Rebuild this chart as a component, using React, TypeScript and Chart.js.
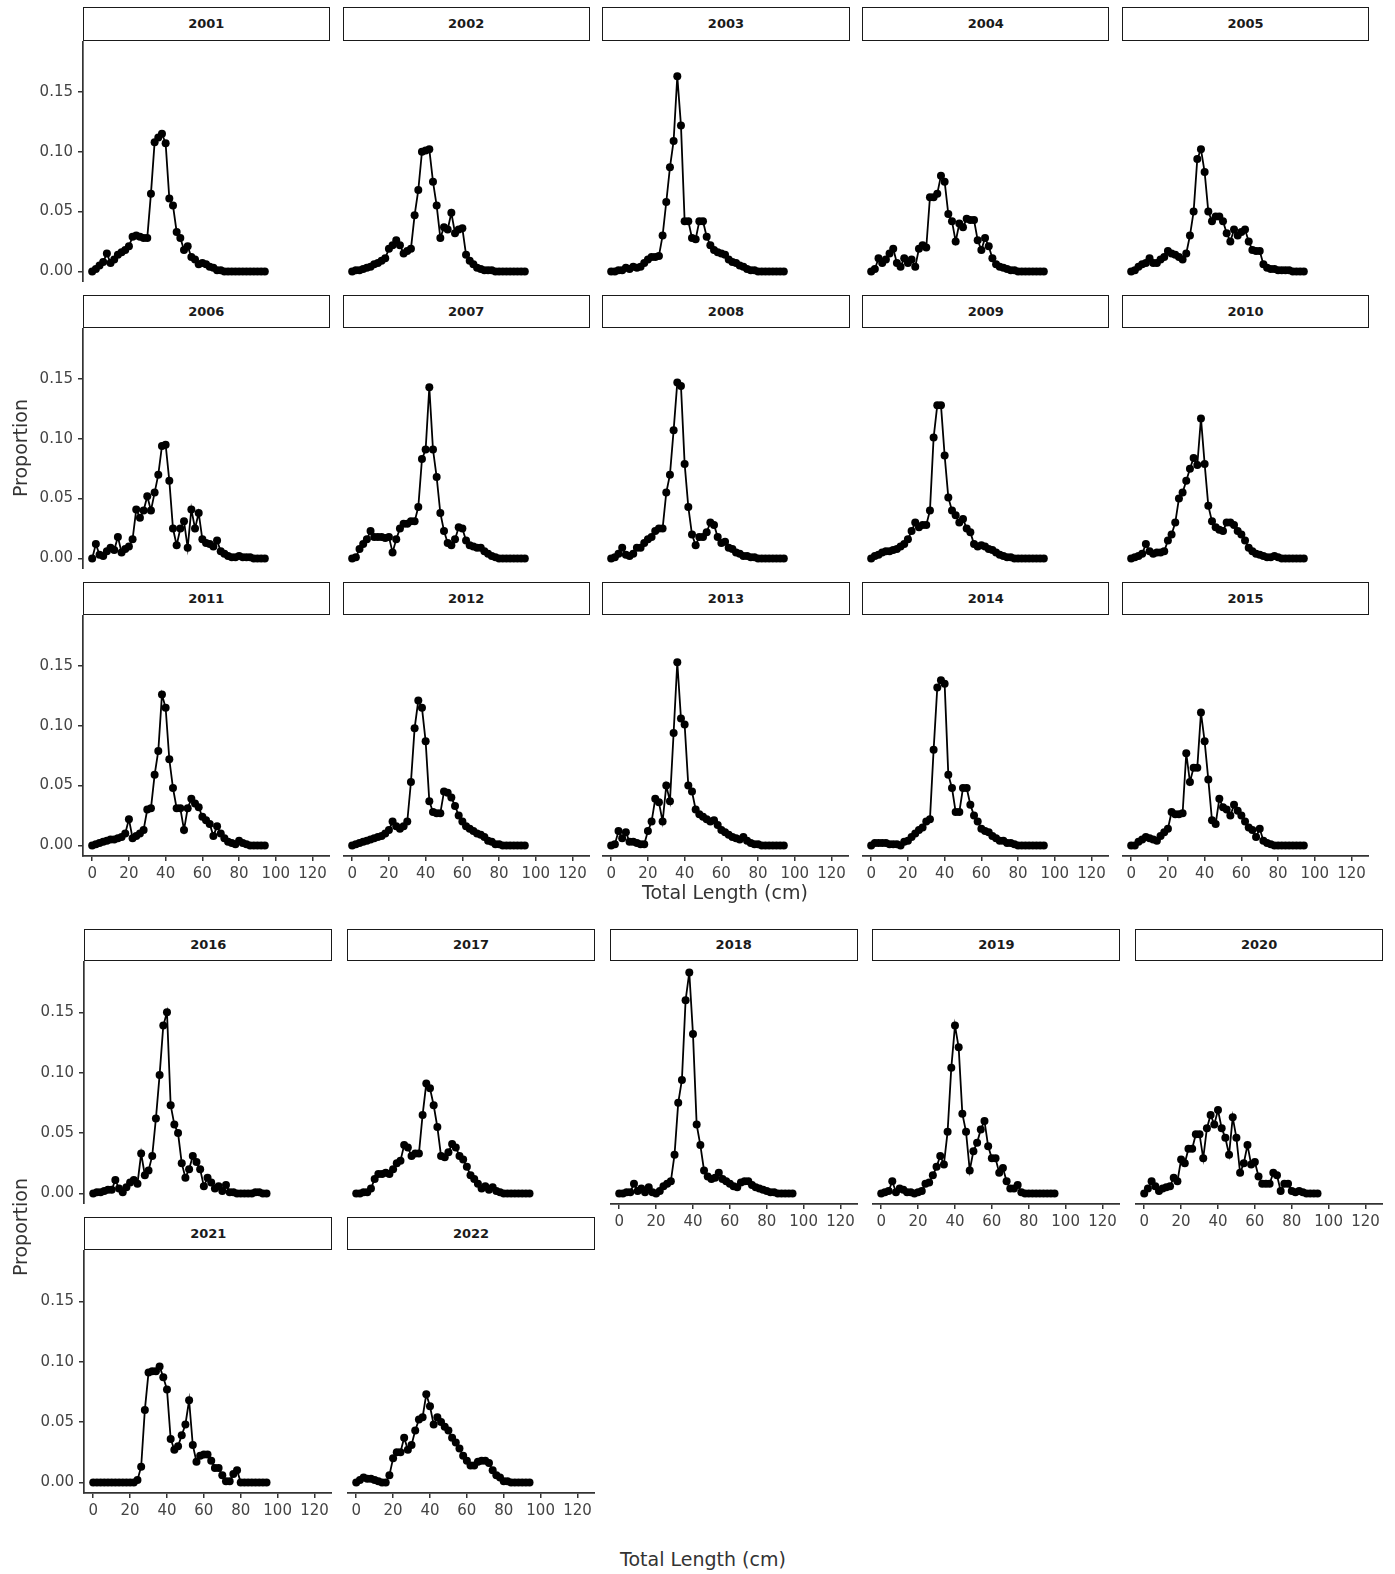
import React, { useEffect, useRef } from "react";
import { Chart, registerables } from "chart.js";

Chart.register(...registerables);

// ---------- data ----------
const LENGTHS = [0, 2, 4, 6, 8, 10, 12, 14, 16, 18, 20, 22, 24, 26, 28, 30, 32, 34, 36, 38, 40, 42, 44, 46, 48, 50, 52, 54, 56, 58, 60, 62, 64, 66, 68, 70, 72, 74, 76, 78, 80, 82, 84, 86, 88, 90, 92, 94];
const X_TICKS = [0, 20, 40, 60, 80, 100, 120];
const Y_TICKS = [0, 0.05, 0.1, 0.15];
const X_MIN = -5;
const X_MAX = 129.5;
const Y_MIN = -0.0088;
const Y_MAX = 0.1925;

const P2001 = [0, 0.002, 0.005, 0.008, 0.015, 0.007, 0.010, 0.014, 0.016, 0.018, 0.021, 0.029, 0.030, 0.029, 0.028, 0.028, 0.065, 0.108, 0.112, 0.115, 0.107, 0.061, 0.055, 0.033, 0.028, 0.018, 0.021, 0.012, 0.010, 0.006, 0.007, 0.006, 0.004, 0.003, 0.001, 0.001, 0, 0, 0, 0, 0, 0, 0, 0, 0, 0, 0, 0];
const P2002 = [0, 0.001, 0.001, 0.002, 0.003, 0.004, 0.006, 0.007, 0.009, 0.011, 0.019, 0.022, 0.026, 0.022, 0.015, 0.017, 0.019, 0.047, 0.068, 0.100, 0.101, 0.102, 0.075, 0.055, 0.028, 0.037, 0.035, 0.049, 0.032, 0.035, 0.036, 0.014, 0.009, 0.006, 0.003, 0.002, 0.001, 0.001, 0.001, 0, 0, 0, 0, 0, 0, 0, 0, 0];
const P2003 = [0, 0, 0.001, 0.001, 0.003, 0.002, 0.004, 0.003, 0.004, 0.007, 0.010, 0.012, 0.012, 0.013, 0.030, 0.058, 0.087, 0.109, 0.163, 0.122, 0.042, 0.042, 0.028, 0.027, 0.042, 0.042, 0.029, 0.022, 0.018, 0.016, 0.015, 0.014, 0.010, 0.008, 0.007, 0.005, 0.004, 0.002, 0.001, 0.001, 0, 0, 0, 0, 0, 0, 0, 0];
const P2004 = [0, 0.002, 0.011, 0.007, 0.010, 0.015, 0.019, 0.007, 0.004, 0.011, 0.007, 0.010, 0.004, 0.019, 0.022, 0.020, 0.062, 0.062, 0.065, 0.080, 0.075, 0.048, 0.042, 0.025, 0.040, 0.037, 0.044, 0.043, 0.043, 0.026, 0.018, 0.028, 0.021, 0.011, 0.006, 0.004, 0.003, 0.002, 0.001, 0.001, 0, 0, 0, 0, 0, 0, 0, 0];
const P2005 = [0, 0.001, 0.004, 0.006, 0.007, 0.011, 0.007, 0.007, 0.010, 0.012, 0.017, 0.015, 0.014, 0.012, 0.010, 0.015, 0.030, 0.050, 0.094, 0.102, 0.083, 0.050, 0.042, 0.046, 0.046, 0.042, 0.032, 0.025, 0.035, 0.030, 0.033, 0.035, 0.025, 0.018, 0.017, 0.017, 0.006, 0.003, 0.002, 0.002, 0.001, 0.001, 0.001, 0.001, 0, 0, 0, 0];
const P2006 = [0, 0.012, 0.003, 0.002, 0.006, 0.009, 0.007, 0.018, 0.005, 0.008, 0.010, 0.016, 0.041, 0.034, 0.040, 0.052, 0.040, 0.055, 0.070, 0.094, 0.095, 0.065, 0.025, 0.011, 0.025, 0.031, 0.009, 0.041, 0.025, 0.038, 0.016, 0.013, 0.012, 0.010, 0.015, 0.006, 0.004, 0.002, 0.001, 0.001, 0.002, 0.001, 0.001, 0.001, 0, 0, 0, 0];
const P2007 = [0, 0.001, 0.008, 0.012, 0.016, 0.023, 0.018, 0.018, 0.018, 0.017, 0.018, 0.005, 0.016, 0.025, 0.029, 0.029, 0.031, 0.031, 0.043, 0.083, 0.091, 0.143, 0.091, 0.068, 0.038, 0.023, 0.013, 0.011, 0.016, 0.026, 0.025, 0.015, 0.011, 0.010, 0.009, 0.009, 0.006, 0.004, 0.002, 0.001, 0, 0, 0, 0, 0, 0, 0, 0];
const P2008 = [0, 0.001, 0.004, 0.009, 0.003, 0.002, 0.004, 0.009, 0.009, 0.013, 0.016, 0.018, 0.023, 0.025, 0.025, 0.055, 0.070, 0.107, 0.147, 0.144, 0.079, 0.043, 0.020, 0.011, 0.018, 0.018, 0.022, 0.030, 0.028, 0.018, 0.013, 0.014, 0.009, 0.008, 0.005, 0.004, 0.002, 0.002, 0.001, 0.001, 0, 0, 0, 0, 0, 0, 0, 0];
const P2009 = [0, 0.002, 0.003, 0.005, 0.006, 0.006, 0.007, 0.008, 0.010, 0.012, 0.016, 0.023, 0.030, 0.026, 0.028, 0.028, 0.040, 0.101, 0.128, 0.128, 0.086, 0.051, 0.040, 0.036, 0.030, 0.033, 0.025, 0.022, 0.012, 0.010, 0.011, 0.010, 0.008, 0.007, 0.005, 0.003, 0.002, 0.001, 0.001, 0, 0, 0, 0, 0, 0, 0, 0, 0];
const P2010 = [0, 0.001, 0.002, 0.004, 0.012, 0.006, 0.004, 0.005, 0.005, 0.006, 0.015, 0.020, 0.030, 0.050, 0.055, 0.065, 0.075, 0.084, 0.078, 0.117, 0.079, 0.044, 0.031, 0.026, 0.024, 0.023, 0.030, 0.030, 0.028, 0.023, 0.020, 0.015, 0.009, 0.006, 0.004, 0.003, 0.002, 0.001, 0.001, 0.002, 0.001, 0, 0, 0, 0, 0, 0, 0];
const P2011 = [0, 0.001, 0.002, 0.003, 0.004, 0.005, 0.005, 0.006, 0.007, 0.010, 0.022, 0.006, 0.008, 0.010, 0.013, 0.030, 0.031, 0.059, 0.079, 0.126, 0.115, 0.072, 0.048, 0.031, 0.031, 0.013, 0.031, 0.039, 0.035, 0.032, 0.024, 0.021, 0.018, 0.008, 0.016, 0.010, 0.006, 0.003, 0.002, 0.001, 0.004, 0.002, 0.001, 0, 0, 0, 0, 0];
const P2012 = [0, 0.001, 0.002, 0.003, 0.004, 0.005, 0.006, 0.007, 0.008, 0.010, 0.013, 0.020, 0.016, 0.014, 0.016, 0.020, 0.053, 0.098, 0.121, 0.115, 0.087, 0.037, 0.028, 0.027, 0.027, 0.045, 0.044, 0.040, 0.033, 0.025, 0.020, 0.016, 0.014, 0.012, 0.010, 0.009, 0.007, 0.004, 0.003, 0.001, 0.001, 0, 0, 0, 0, 0, 0, 0];
const P2013 = [0, 0.001, 0.012, 0.006, 0.011, 0.003, 0.003, 0.002, 0.001, 0.001, 0.012, 0.020, 0.039, 0.036, 0.020, 0.050, 0.037, 0.094, 0.153, 0.106, 0.101, 0.050, 0.045, 0.030, 0.026, 0.024, 0.022, 0.020, 0.021, 0.017, 0.013, 0.011, 0.009, 0.007, 0.006, 0.005, 0.007, 0.004, 0.002, 0.001, 0.001, 0, 0, 0, 0, 0, 0, 0];
const P2014 = [0, 0.002, 0.002, 0.002, 0.002, 0.001, 0.001, 0.001, 0, 0.003, 0.004, 0.007, 0.010, 0.013, 0.015, 0.020, 0.022, 0.080, 0.132, 0.138, 0.135, 0.059, 0.048, 0.028, 0.028, 0.048, 0.048, 0.034, 0.025, 0.020, 0.014, 0.012, 0.011, 0.008, 0.006, 0.004, 0.004, 0.002, 0.002, 0.001, 0, 0, 0, 0, 0, 0, 0, 0];
const P2015 = [0, 0, 0.003, 0.005, 0.007, 0.006, 0.005, 0.004, 0.008, 0.011, 0.014, 0.028, 0.026, 0.026, 0.027, 0.077, 0.053, 0.065, 0.065, 0.111, 0.087, 0.055, 0.021, 0.018, 0.039, 0.032, 0.030, 0.025, 0.034, 0.029, 0.025, 0.020, 0.015, 0.013, 0.007, 0.014, 0.004, 0.002, 0.001, 0, 0, 0, 0, 0, 0, 0, 0, 0];
const P2016 = [0, 0.001, 0.001, 0.002, 0.003, 0.003, 0.011, 0.004, 0.001, 0.005, 0.009, 0.011, 0.008, 0.033, 0.015, 0.019, 0.031, 0.062, 0.098, 0.139, 0.150, 0.073, 0.057, 0.050, 0.025, 0.013, 0.020, 0.031, 0.026, 0.020, 0.006, 0.013, 0.009, 0.004, 0.006, 0.002, 0.007, 0.001, 0.001, 0, 0, 0, 0, 0, 0.001, 0.001, 0, 0];
const P2017 = [0, 0, 0.001, 0.001, 0.004, 0.012, 0.016, 0.016, 0.017, 0.016, 0.020, 0.025, 0.027, 0.040, 0.038, 0.031, 0.033, 0.033, 0.065, 0.091, 0.087, 0.073, 0.055, 0.031, 0.030, 0.034, 0.041, 0.038, 0.031, 0.028, 0.022, 0.015, 0.012, 0.008, 0.004, 0.006, 0.003, 0.005, 0.002, 0.001, 0, 0, 0, 0, 0, 0, 0, 0];
const P2018 = [0, 0, 0.001, 0.001, 0.008, 0.002, 0.004, 0.001, 0.005, 0.001, 0, 0.002, 0.006, 0.008, 0.010, 0.032, 0.075, 0.094, 0.160, 0.183, 0.132, 0.057, 0.040, 0.019, 0.014, 0.012, 0.013, 0.017, 0.012, 0.010, 0.008, 0.006, 0.005, 0.009, 0.010, 0.010, 0.007, 0.005, 0.004, 0.003, 0.002, 0.001, 0.001, 0, 0, 0, 0, 0];
const P2019 = [0, 0.001, 0.002, 0.010, 0.001, 0.004, 0.003, 0.001, 0.001, 0, 0.001, 0.002, 0.008, 0.009, 0.015, 0.022, 0.031, 0.024, 0.051, 0.104, 0.139, 0.121, 0.066, 0.051, 0.019, 0.035, 0.042, 0.053, 0.060, 0.039, 0.029, 0.029, 0.017, 0.021, 0.010, 0.004, 0.004, 0.007, 0.001, 0, 0, 0, 0, 0, 0, 0, 0, 0];
const P2020 = [0, 0.004, 0.010, 0.006, 0.002, 0.004, 0.005, 0.006, 0.013, 0.010, 0.028, 0.025, 0.037, 0.037, 0.049, 0.049, 0.029, 0.054, 0.065, 0.057, 0.069, 0.054, 0.046, 0.032, 0.063, 0.046, 0.017, 0.025, 0.040, 0.024, 0.026, 0.014, 0.008, 0.008, 0.008, 0.017, 0.015, 0.002, 0.008, 0.008, 0.002, 0.001, 0.002, 0.001, 0, 0, 0, 0];
const P2021 = [0, 0, 0, 0, 0, 0, 0, 0, 0, 0, 0, 0, 0.002, 0.013, 0.060, 0.091, 0.092, 0.092, 0.096, 0.087, 0.077, 0.036, 0.027, 0.030, 0.039, 0.048, 0.068, 0.031, 0.017, 0.022, 0.023, 0.023, 0.018, 0.012, 0.012, 0.006, 0.001, 0.001, 0.007, 0.010, 0, 0, 0, 0, 0, 0, 0, 0];
const P2022 = [0, 0.002, 0.004, 0.003, 0.003, 0.002, 0.001, 0, 0, 0.006, 0.020, 0.025, 0.025, 0.037, 0.027, 0.031, 0.043, 0.052, 0.054, 0.073, 0.063, 0.048, 0.054, 0.050, 0.046, 0.043, 0.037, 0.033, 0.028, 0.022, 0.018, 0.014, 0.014, 0.017, 0.018, 0.018, 0.016, 0.010, 0.006, 0.004, 0.001, 0.001, 0, 0, 0, 0, 0, 0];

const TOP_YEARS = ["2001", "2002", "2003", "2004", "2005", "2006", "2007", "2008", "2009", "2010", "2011", "2012", "2013", "2014", "2015"];
const TOP_SERIES = [P2001, P2002, P2003, P2004, P2005, P2006, P2007, P2008, P2009, P2010, P2011, P2012, P2013, P2014, P2015];
const BOTTOM_YEARS = ["2016", "2017", "2018", "2019", "2020", "2021", "2022"];
const BOTTOM_SERIES = [P2016, P2017, P2018, P2019, P2020, P2021, P2022];

const Y_TITLE = "Proportion";
const X_TITLE = "Total Length (cm)";

// ---------- layout ----------
const AXIS_W = 60;
const AXIS_H = 32;
const TICK_FONT = "'DejaVu Sans', 'Liberation Sans', sans-serif";
const TITLE_FONT = "'DejaVu Sans', 'Liberation Sans', sans-serif";

type Spec = {
  year: string;
  values: number[];
  stripLeft: number;
  stripTop: number;
  stripW: number;
  stripH: number;
  panelH: number;
  showX: boolean;
  showY: boolean;
};

function buildSpecs(): Spec[] {
  const specs: Spec[] = [];
  TOP_YEARS.forEach((year, i) => {
    const r = Math.floor(i / 5);
    const c = i % 5;
    specs.push({
      year,
      values: TOP_SERIES[i],
      stripLeft: 82.7 + 259.8 * c,
      stripTop: 7.3 + 287.3 * r,
      stripW: 247.3,
      stripH: 33.4,
      panelH: 241,
      showX: r === 2,
      showY: c === 0,
    });
  });
  BOTTOM_YEARS.forEach((year, j) => {
    const r = Math.floor(j / 5);
    const c = j % 5;
    specs.push({
      year,
      values: BOTTOM_SERIES[j],
      stripLeft: 84.3 + 262.7 * c,
      stripTop: 928.5 + 288.7 * r,
      stripW: 248,
      stripH: 32.5,
      panelH: 243,
      showX: r === 1 || (r === 0 && c >= 2),
      showY: c === 0,
    });
  });
  return specs;
}

function Panel({ spec }: { spec: Spec }) {
  const ref = useRef<HTMLCanvasElement | null>(null);
  const left = Math.round(spec.stripLeft - (spec.showY ? AXIS_W : 0));
  const top = Math.round(spec.stripTop + spec.stripH);
  const width = Math.round(spec.stripW + (spec.showY ? AXIS_W : 0));
  const height = Math.round(spec.panelH + (spec.showX ? AXIS_H : 0));

  useEffect(() => {
    if (!ref.current) return;
    const points = LENGTHS.map((x, i) => ({ x, y: spec.values[i] ?? 0 }));
    const axisColor = "#333333";
    const tickColor = "#444444";
    const chart = new Chart(ref.current, {
      type: "line",
      data: {
        datasets: [
          {
            data: points,
            borderColor: "#000000",
            backgroundColor: "#000000",
            borderWidth: 1.8,
            pointRadius: 4,
            pointBackgroundColor: "#000000",
            pointBorderColor: "#000000",
            pointBorderWidth: 0,
            tension: 0,
            clip: false as any,
          },
        ],
      },
      options: {
        animation: false,
        responsive: false,
        maintainAspectRatio: false,
        events: [],
        layout: { padding: 0, autoPadding: false },
        plugins: { legend: { display: false }, tooltip: { enabled: false }, title: { display: false } },
        scales: {
          x: {
            type: "linear",
            min: X_MIN,
            max: X_MAX,
            display: spec.showX,
            afterBuildTicks: (s: any) => {
              s.ticks = X_TICKS.map((v) => ({ value: v }));
            },
            afterFit: (s: any) => {
              if (spec.showX) s.height = AXIS_H;
              s.paddingLeft = 0;
              s.paddingRight = 0;
              s.paddingTop = 0;
              s.paddingBottom = 0;
            },
            ticks: {
              autoSkip: false,
              maxRotation: 0,
              minRotation: 0,
              padding: 4,
              color: tickColor,
              font: { family: TICK_FONT, size: 15 },
              callback: (v: any) => String(v),
            },
            grid: { display: true, drawOnChartArea: false, drawTicks: true, tickLength: 5, color: axisColor, lineWidth: 1.5 },
            border: { display: true, color: axisColor, width: 1.7 },
          },
          y: {
            type: "linear",
            min: Y_MIN,
            max: Y_MAX,
            display: spec.showY,
            afterBuildTicks: (s: any) => {
              s.ticks = Y_TICKS.map((v) => ({ value: v }));
            },
            afterFit: (s: any) => {
              if (spec.showY) s.width = AXIS_W;
              s.paddingLeft = 0;
              s.paddingRight = 0;
              s.paddingTop = 0;
              s.paddingBottom = 0;
            },
            ticks: {
              autoSkip: false,
              padding: 5,
              color: tickColor,
              font: { family: TICK_FONT, size: 15 },
              callback: (v: any) => Number(v).toFixed(2),
            },
            grid: { display: true, drawOnChartArea: false, drawTicks: true, tickLength: 5, color: axisColor, lineWidth: 1.5 },
            border: { display: true, color: axisColor, width: 1.7 },
          },
        },
      } as any,
    });
    return () => chart.destroy();
  }, []);

  return (
    <>
      <div
        style={{
          position: "absolute",
          left: spec.stripLeft,
          top: spec.stripTop,
          width: spec.stripW,
          height: spec.stripH,
          boxSizing: "border-box",
          border: "1.8px solid #1a1a1a",
          background: "#ffffff",
          display: "flex",
          alignItems: "center",
          justifyContent: "center",
          fontFamily: TICK_FONT,
          fontSize: 13,
          fontWeight: 700,
          color: "#1a1a1a",
        }}
      >
        {spec.year}
      </div>
      <canvas
        ref={ref}
        width={width}
        height={height}
        style={{ position: "absolute", left, top, width, height }}
      />
    </>
  );
}

function YTitle({ cx, cy }: { cx: number; cy: number }) {
  return (
    <div
      style={{
        position: "absolute",
        left: cx - 90,
        top: cy - 13,
        width: 180,
        height: 26,
        lineHeight: "26px",
        textAlign: "center",
        transform: "rotate(-90deg)",
        fontFamily: TITLE_FONT,
        fontSize: 19,
        color: "#333333",
      }}
    >
      {Y_TITLE}
    </div>
  );
}

function XTitle({ cx, cy }: { cx: number; cy: number }) {
  return (
    <div
      style={{
        position: "absolute",
        left: cx - 150,
        top: cy - 13,
        width: 300,
        height: 26,
        lineHeight: "26px",
        textAlign: "center",
        fontFamily: TITLE_FONT,
        fontSize: 19,
        color: "#333333",
      }}
    >
      {X_TITLE}
    </div>
  );
}

export default function App() {
  const specs = buildSpecs();
  return (
    <div style={{ position: "absolute", left: 0, top: 0, width: 1395, height: 1574, background: "#ffffff", overflow: "hidden" }}>
      {specs.map((s) => (
        <Panel key={s.year} spec={s} />
      ))}
      <YTitle cx={20} cy={448} />
      <YTitle cx={20} cy={1227} />
      <XTitle cx={725} cy={892} />
      <XTitle cx={703} cy={1559} />
    </div>
  );
}
